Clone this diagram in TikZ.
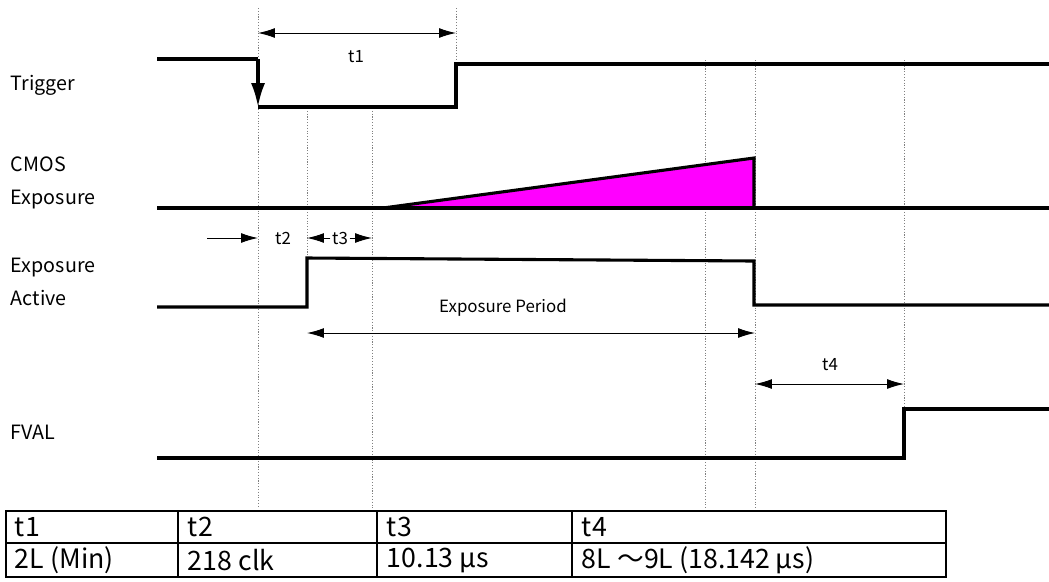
\documentclass[tikz,border=0pt]{standalone}
\usepackage{fontspec}
\setmainfont{Noto Sans CJK JP}
\usetikzlibrary{arrows.meta}
\definecolor{expFill}{RGB}{255,0,255}
\tikzset{
  sig/.style={line width=2.2pt, line join=miter},
  dim/.style={line width=0.7pt, -{Latex[length=12pt,width=7pt]}},
  guide/.style={line width=0.4pt, gray, dash pattern=on 0.8pt off 1.2pt},
  sigName/.style={anchor=west, align=left, font=\fontsize{14}{23}\selectfont},
  dimName/.style={font=\fontsize{12}{14}\selectfont},
  cellText/.style={anchor=west, font=\fontsize{19}{21}\selectfont}
}
\begin{document}
\begin{tikzpicture}[x=0.025cm,y=-0.025cm]
\useasboundingbox (0,0) rectangle (1049,581);
% time marks
\coordinate (trigDown) at (258,59);
\coordinate (trigLow) at (258,107);
\coordinate (trigUp) at (456,107);
\coordinate (actUp) at (307,307);
\coordinate (expStart) at (383,208);
\coordinate (expEnd) at (754,208);
\coordinate (fvalUp) at (904,458);
% guides
\draw[guide] (258,8) -- (258,508);
\draw[guide] (456,8) -- (456,60);
\draw[guide] (307,108) -- (307,255);
\draw[guide] (372,108) -- (372,508);
\draw[guide] (705,60) -- (705,508);
\draw[guide] (755,60) -- (755,508);
\draw[guide] (904,60) -- (904,408);
% signal names
\node[sigName] (trigName) at (6,85) {Trigger};
\node[sigName] (cmosName) at (6,183) {CMOS\\Exposure};
\node[sigName] (actName) at (6,282) {Exposure\\Active};
\node[sigName] (fvalName) at (6,432) {FVAL};
% Trigger
\draw[sig] (157,59) -- (trigDown);
\draw[sig,-{Latex[length=17pt,width=10pt]}] (trigDown) -- (trigLow);
\draw[sig] (trigLow) -- (trigUp) -- (456,64) -- (1049,64);
% CMOS exposure
\fill[expFill] (expStart) -- (754,158) -- (expEnd) -- cycle;
\draw[sig] (157,208) -- (1049,208);
\draw[sig] (expStart) -- (754,158) -- (expEnd);
% Exposure Active
\draw[sig] (157,307) -- (actUp) -- (307,258) -- (754,261) -- (754,305) -- (1049,305);
% FVAL
\draw[sig] (157,458) -- (fvalUp) -- (904,409) -- (1049,409);
% dimensions
\node[dimName] (t1) at (356,57) {t1};
\draw[dim] (357,33) -- (258,33);
\draw[dim] (357,33) -- (456,33);
\node[dimName] (t2) at (283,238) {t2};
\coordinate (t2tail) at (207,238);
\draw[dim] (t2tail) -- (258,238);
\node[dimName,inner sep=1pt] (t3) at (340,238) {t3};
\draw[dim] (t3.west) -- (307,238);
\draw[dim] (t3.east) -- (372,238);
\node[dimName] (period) at (503,308) {Exposure Period};
\draw[dim] (530,333) -- (307,333);
\draw[dim] (530,333) -- (755,333);
\node[dimName] (t4) at (830,365) {t4};
\draw[dim] (829,384) -- (755,384);
\draw[dim] (829,384) -- (904,384);
% table
\draw[line width=1.4pt] (6,511) rectangle (946,577);
\draw[line width=1.4pt] (6,543) -- (946,543);
\foreach \cx in {178,377,572}
  \draw[line width=1.4pt] (\cx,511) -- (\cx,577);
\node[cellText] (h1) at (10,527) {t1};
\node[cellText] (h2) at (183,527) {t2};
\node[cellText] (h3) at (382,527) {t3};
\node[cellText] (h4) at (577,527) {t4};
\node[cellText] (v1) at (10,560) {2L (Min)};
\node[cellText] (v2) at (183,560) {218 clk};
\node[cellText] (v3) at (382,560) {10.13 µs};
\node[cellText] (v4) at (577,560) {8L ～9L (18.142 µs)};
\end{tikzpicture}
\end{document}
